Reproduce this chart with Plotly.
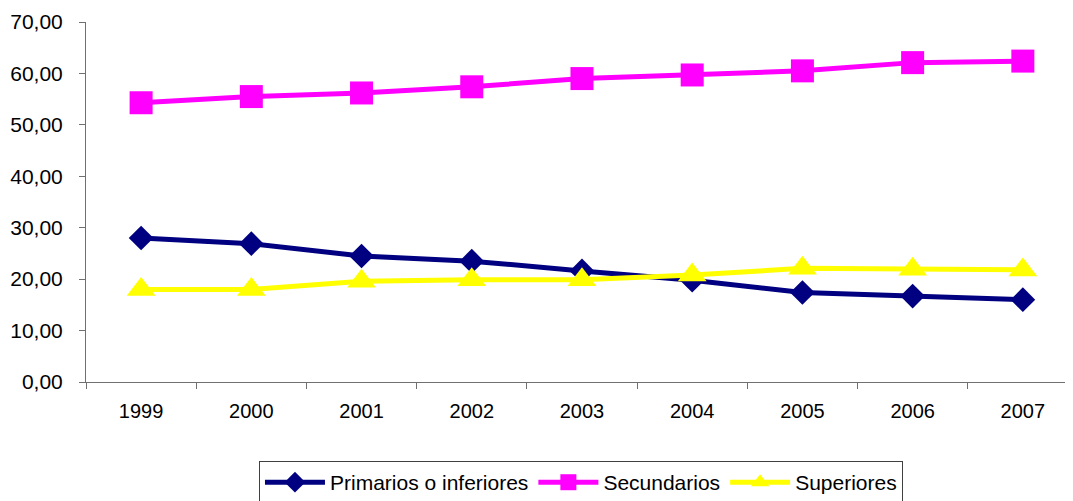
import plotly.graph_objects as go

years = ["1999", "2000", "2001", "2002", "2003", "2004", "2005", "2006", "2007"]
primarios = [28.0, 26.9, 24.5, 23.5, 21.6, 19.8, 17.4, 16.7, 16.0]
secundarios = [54.3, 55.5, 56.2, 57.4, 59.0, 59.7, 60.5, 62.1, 62.4]
superiores = [18.0, 18.0, 19.6, 19.9, 19.9, 20.8, 22.1, 21.9, 21.8]

fig = go.Figure()
fig.add_trace(go.Scatter(x=years, y=primarios, name="Primarios o inferiores",
                         mode="lines+markers",
                         line=dict(color="#000080", width=5),
                         marker=dict(symbol="diamond", size=19, color="#000080")))
fig.add_trace(go.Scatter(x=years, y=secundarios, name="Secundarios",
                         mode="lines+markers",
                         line=dict(color="#FF00FF", width=5),
                         marker=dict(symbol="square", size=23, color="#FF00FF")))
fig.add_trace(go.Scatter(x=years, y=superiores, name="Superiores",
                         mode="lines+markers",
                         line=dict(color="#FFFF00", width=5),
                         marker=dict(symbol="triangle-up", size=25, color="#FFFF00")))

axis_color = "#707070"
font = "Liberation Sans, Arial, sans-serif"
# page has an 8px body margin, so the figure is sized to fill the rest of the window
fig.update_layout(
    width=1065, height=493,
    margin=dict(l=78, r=0, t=14, b=119, autoexpand=False),
    paper_bgcolor="white", plot_bgcolor="white",
    separators=",.",
    font=dict(family=font, size=19, color="black"),
    showlegend=True,
    legend=dict(orientation="h", xref="container", yref="container",
                x=0.538, xanchor="center", y=0.081, yanchor="top",
                bordercolor="#404040", borderwidth=1, bgcolor="white",
                font=dict(family=font, size=21), itemwidth=60,
                tracegroupgap=0, traceorder="normal"),
    xaxis=dict(type="category", range=[-0.5, 8.455], showline=True, linecolor=axis_color,
               linewidth=1, ticks="outside", ticklen=6, tickcolor=axis_color,
               tickson="boundaries", showgrid=False, zeroline=False,
               ticklabelstandoff=11, automargin=False,
               tickfont=dict(family=font, size=20)),
    yaxis=dict(range=[0, 70], dtick=10, tickformat=".2f", showline=True,
               linecolor=axis_color, linewidth=1, ticks="outside", ticklen=6,
               tickcolor=axis_color, showgrid=False, zeroline=False,
               ticklabelstandoff=12, automargin=False,
               tickfont=dict(family=font, size=21)),
)

fig.write_html("out.html")
